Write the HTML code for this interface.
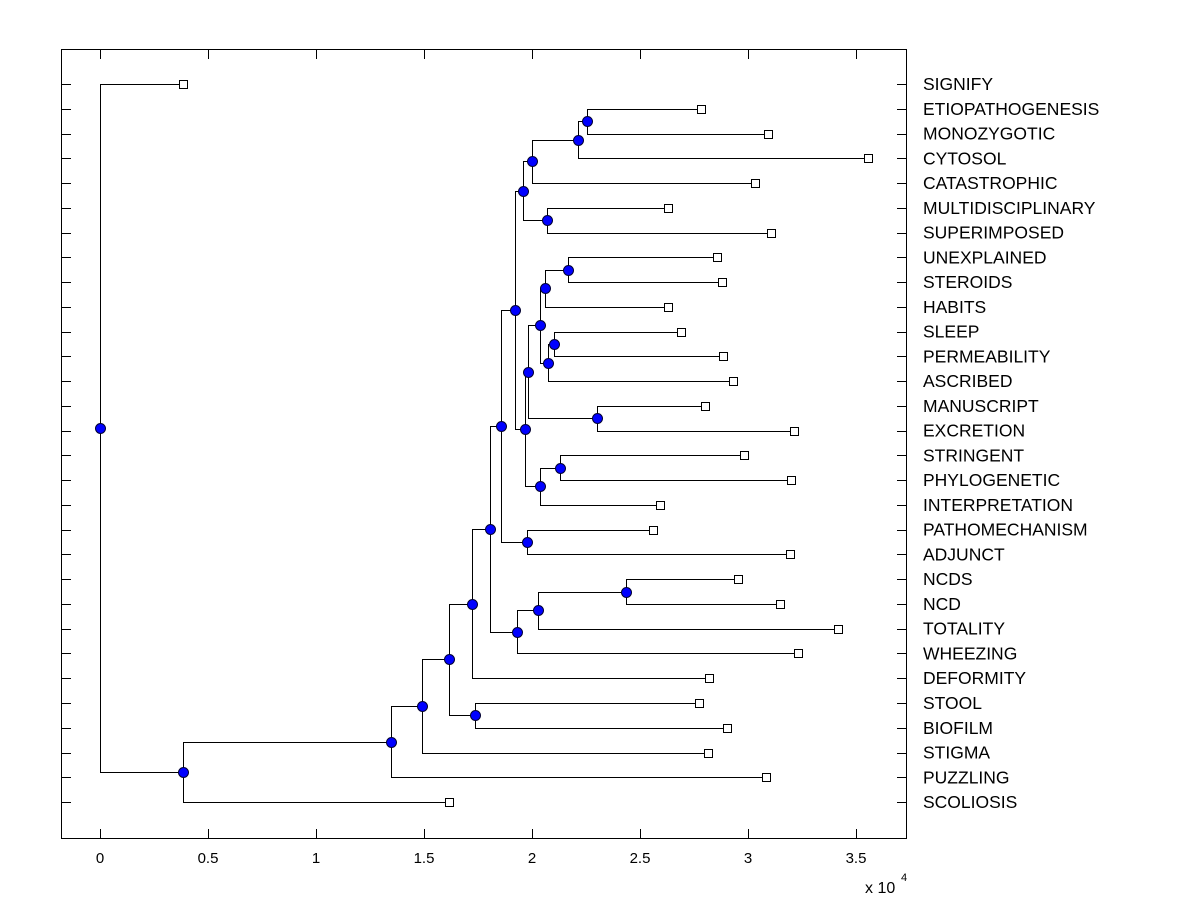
<!DOCTYPE html>
<html><head><meta charset="utf-8">
<style>
body{margin:0;background:#fff;}
svg{display:block;font-family:"Liberation Sans",Arial,sans-serif;}
</style></head>
<body>
<svg id="chart" width="1200" height="900" viewBox="0 0 1200 900" xmlns="http://www.w3.org/2000/svg">
<rect x="0" y="0" width="1200" height="900" fill="#fff"/>
<g id="ticks"></g>
<g id="tree"></g>
<g id="marks"></g>
<g id="labels"></g>
<rect x="61.5" y="49.5" width="845" height="789" fill="none" stroke="#000" stroke-width="1"/>
<text x="865" y="893" font-size="16">x 10</text>
<text x="901" y="881" font-size="11">4</text>
</svg>
<script>
const leafNames = ["SIGNIFY","ETIOPATHOGENESIS","MONOZYGOTIC","CYTOSOL","CATASTROPHIC","MULTIDISCIPLINARY","SUPERIMPOSED","UNEXPLAINED","STEROIDS","HABITS","SLEEP","PERMEABILITY","ASCRIBED","MANUSCRIPT","EXCRETION","STRINGENT","PHYLOGENETIC","INTERPRETATION","PATHOMECHANISM","ADJUNCT","NCDS","NCD","TOTALITY","WHEEZING","DEFORMITY","STOOL","BIOFILM","STIGMA","PUZZLING","SCOLIOSIS"];
const leafHeights = [0.384,2.782,3.093,3.556,3.032,2.630,3.106,2.856,2.880,2.630,2.690,2.884,2.931,2.801,3.213,2.981,3.199,2.593,2.560,3.194,2.954,3.148,3.417,3.231,2.819,2.773,2.903,2.815,3.083,1.616];
// internal nodes: children refer to leaves as "L<i>" and nodes as "N<i>"
const nodeNames = ["root","A","B","C","D","F","E","G","I","J","K","H","M","L","O","Q","R","P","T","S","V","W","U","X","N","Z","Y","AA","AB"];
const nodeHeights = [0,0.384,1.347,1.491,1.616,1.736,1.722,1.806,1.931,2.028,2.435,1.856,1.977,1.921,1.968,2.037,2.130,1.981,2.301,2.037,2.074,2.102,2.060,2.167,1.958,2.069,2.000,2.213,2.255];
const nodeChildren = [["L0","N1"],["N2","L29"],["N3","L28"],["N4","L27"],["N6","N5"],["L25","L26"],["N7","L24"],["N11","N8"],["N9","L23"],["N10","L22"],["L20","L21"],["N13","N12"],["L18","L19"],["N24","N14"],["N17","N15"],["N16","L17"],["L15","L16"],["N19","N18"],["L13","L14"],["N22","N20"],["N21","L12"],["L10","L11"],["N23","L9"],["L7","L8"],["N26","N25"],["L5","L6"],["N27","L4"],["N28","L3"],["L1","L2"]];
const xTicks = [0,0.5,1,1.5,2,2.5,3,3.5];
const xTickLabels = ["0","0.5","1","1.5","2","2.5","3","3.5"];

const NS="http://www.w3.org/2000/svg";
const xs = v => 100 + v*216;
const ys = i => 84 + i*24.76;
function mk(tag, parent, attrs){const e=document.createElementNS(NS,tag);for(const k in attrs)e.setAttribute(k,attrs[k]);document.getElementById(parent).appendChild(e);return e;}

xTicks.forEach((t,i)=>{
  const x=Math.round(xs(t))+0.5;
  let e=mk('line','ticks',{x1:x,x2:x,y1:838,y2:829,stroke:'#000'});
  
  
  e=mk('line','ticks',{x1:x,x2:x,y1:50,y2:59,stroke:'#000'});
  
  
  const tx=mk('text','ticks',{x:xs(t),y:863,'font-size':15,'text-anchor':'middle'});
  tx.textContent=xTickLabels[i];
  
  
});
leafNames.forEach((n,i)=>{
  const y=Math.round(ys(i))+0.5;
  let e=mk('line','ticks',{x1:62,x2:71,y1:y,y2:y,stroke:'#000'});
  
  
  e=mk('line','ticks',{x1:897,x2:906,y1:y,y2:y,stroke:'#000'});
  
  
  const tx=mk('text','labels',{x:923,y:ys(i)+6,'font-size':17.5});
  tx.textContent=n;
  
  
});

const pos={};
function place(id){
  if(pos[id])return pos[id];
  const k=id[0], i=+id.slice(1);
  if(k==='L'){pos[id]={x:xs(leafHeights[i]),y:ys(i)};}
  else{const ch=nodeChildren[i].map(place);pos[id]={x:xs(nodeHeights[i]),y:(ch[0].y+ch[1].y)/2};}
  return pos[id];
}
place('N0');
nodeChildren.forEach((ch,i)=>{
  const p=pos['N'+i];
  const a=pos[ch[0]], b=pos[ch[1]];
  const px=Math.round(p.x)+0.5;
  const d=`M${Math.round(a.x)} ${Math.round(a.y)+0.5} H${px} V${Math.round(b.y)+0.5} H${Math.round(b.x)}`;
  const e=mk('path','tree',{d:d,fill:'none',stroke:'#000','stroke-width':1});
  
  
});
leafNames.forEach((n,i)=>{
  const p=pos['L'+i];
  const e=mk('rect','marks',{x:Math.round(p.x)-3.5,y:Math.round(p.y)-3.5,width:8,height:8,fill:'#fff',stroke:'#000'});
  
  
});
nodeNames.forEach((n,i)=>{
  const p=pos['N'+i];
  const e=mk('circle','marks',{cx:Math.round(p.x)+0.5,cy:Math.round(p.y)+0.5,r:5,fill:'#0000ff',stroke:'#000033','stroke-width':1});
  
  
});
</script>
</body></html>
